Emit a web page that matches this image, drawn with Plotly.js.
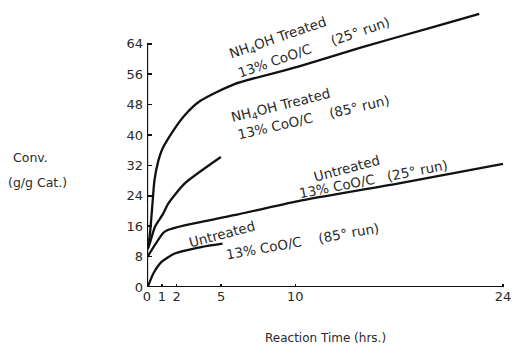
<!DOCTYPE html>
<html>
<head>
<meta charset="utf-8">
<script src="https://cdn.plot.ly/plotly-3.0.1.min.js"></script>
<style>html,body{margin:0;padding:0;background:#fff;}#chart{width:512px;height:346px;}</style>
</head>
<body>
<div id="chart"></div>
<script>
// Reaction time (hrs.) and conversion (g/g Cat.)
const nh4_25_x = [0.05, 0.2, 0.35, 0.5, 0.75, 1.0, 1.5, 2.5, 3.6, 5.9, 10.2, 14.4, 19.1, 22.4];
const nh4_25_y = [10, 14, 21, 28, 33, 36, 39.5, 45, 49, 53.4, 58, 63, 68.2, 71.9];

const nh4_85_x = [0.05, 0.2, 0.53, 1.09, 1.42, 2.53, 4.98];
const nh4_85_y = [10, 11.6, 15.8, 19.3, 21.9, 27.2, 34.2];

const un_25_x = [0.05, 0.31, 1.09, 1.4, 2.6, 5.87, 10.2, 16.9, 24];
const un_25_y = [8, 9.7, 14.2, 15.0, 16.3, 18.9, 22.6, 27.2, 32.4];

const un_85_x = [0.05, 0.42, 0.98, 1.87, 3.65, 5.09];
const un_85_y = [0, 3.5, 6.6, 8.8, 10.5, 11.4];

const xTicks = [0, 1, 2, 5, 10, 24];
const xTickText = ["0", "1", "2", "5", "10", "24"];
const yTicks = [0, 8, 16, 24, 32, 40, 48, 56, 64];
const yTickText = ["0", "8", "16", "24", "32", "40", "48", "56", "64"];

const labelLines = [
  {text: "NH<sub>4</sub>OH Treated", x: 8.85, y: 65.6, angle: -19},
  {text: "13% CoO/C\u00a0\u00a0\u00a0\u00a0\u00a0(25° run)", x: 11.25, y: 63.2, angle: -19},
  {text: "NH<sub>4</sub>OH Treated", x: 9.0, y: 47.6, angle: -14},
  {text: "13% CoO/C\u00a0\u00a0\u00a0\u00a0(85° run)", x: 11.25, y: 44.7, angle: -13},
  {text: "Untreated", x: 13.5, y: 31.2, angle: -15},
  {text: "13% CoO/C\u00a0\u00a0\u00a0(25° run)", x: 15.25, y: 28.3, angle: -11},
  {text: "Untreated", x: 5.05, y: 14.0, angle: -15},
  {text: "13% CoO/C\u00a0\u00a0\u00a0\u00a0(85° run)", x: 10.5, y: 12.0, angle: -10}
];

const FONT = "'DejaVu Sans', 'Liberation Sans', sans-serif";
const TXT = "#2a2a2a";
const lineStyle = {color: "#111", width: 2.3, shape: "spline", smoothing: 0.6};

const traces = [
  {x: nh4_25_x, y: nh4_25_y, mode: "lines", line: lineStyle, name: "NH4OH 25"},
  {x: nh4_85_x, y: nh4_85_y, mode: "lines", line: lineStyle, name: "NH4OH 85"},
  {x: un_25_x, y: un_25_y, mode: "lines", line: lineStyle, name: "Untreated 25"},
  {x: un_85_x, y: un_85_y, mode: "lines", line: lineStyle, name: "Untreated 85"}
];

const annotations = labelLines.map(l => ({
  text: l.text, x: l.x, y: l.y, xref: "x", yref: "y", showarrow: false,
  textangle: l.angle, font: {family: FONT, size: 13.5, color: TXT}
}));
annotations.push({text: "Reaction Time (hrs.)", xref: "paper", yref: "paper", x: 0.49, y: 0,
  yshift: -51, xanchor: "center", yanchor: "middle", showarrow: false, font: {family: FONT, size: 12, color: TXT}});
annotations.push({text: "Conv.", xref: "paper", yref: "paper", x: 0, xshift: -117, y: 0.456,
  xanchor: "center", yanchor: "middle", showarrow: false, font: {family: FONT, size: 12.5, color: TXT}});
annotations.push({text: "(g/g Cat.)", xref: "paper", yref: "paper", x: 0, xshift: -110, y: 0.365,
  xanchor: "center", yanchor: "middle", showarrow: false, font: {family: FONT, size: 12.5, color: TXT}});

const layout = {
  width: 512, height: 346,
  margin: {l: 147, r: 1, t: 2, b: 59},
  paper_bgcolor: "#fff", plot_bgcolor: "#fff",
  showlegend: false,
  xaxis: {
    range: [0, 24.54], tickvals: xTicks, ticktext: xTickText,
    showline: false, ticklabeloverflow: "allow",
    ticks: "inside", ticklen: 3, tickwidth: 1.5, tickcolor: "#111",
    showgrid: false, zeroline: false,
    tickfont: {family: FONT, size: 13, color: TXT}
  },
  yaxis: {
    range: [0, 75], tickvals: yTicks, ticktext: yTickText,
    showline: false, ticks: "inside", ticklen: 5, tickwidth: 1.5, tickcolor: "#111",
    showgrid: false, zeroline: false, ticklabelstandoff: 3,
    tickfont: {family: FONT, size: 13, color: TXT}
  },
  shapes: [
    {type: "line", xref: "x", yref: "y", x0: 0, x1: 0, y0: 0, y1: 64, line: {color: "#111", width: 2.3}},
    {type: "line", xref: "x", yref: "y", x0: 0, x1: 24, y0: 0, y1: 0, line: {color: "#111", width: 2}}
  ],
  annotations: annotations
};

Plotly.newPlot("chart", traces, layout, {displayModeBar: false, staticPlot: true});
</script>
</body>
</html>
